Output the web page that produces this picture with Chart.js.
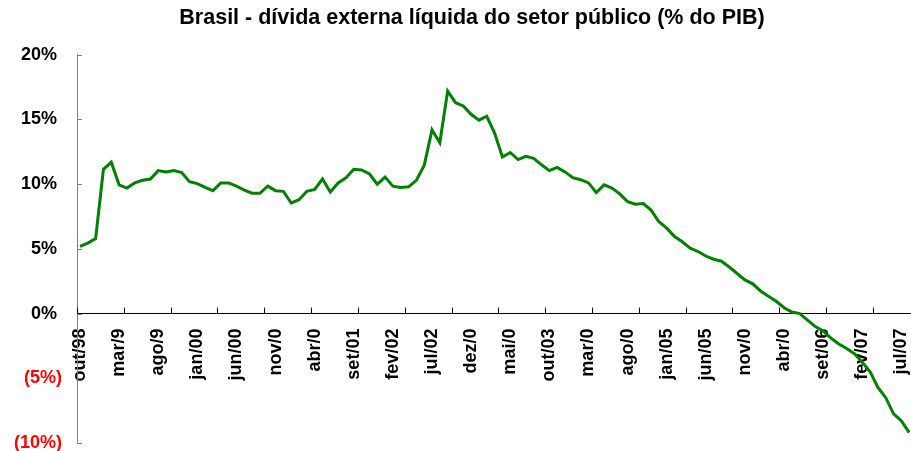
<!DOCTYPE html>
<html>
<head>
<meta charset="utf-8">
<script src="https://cdn.jsdelivr.net/npm/chart.js@4.4.1/dist/chart.umd.min.js"></script>
<style>
  html, body { margin: 0; padding: 0; background: #fff; }
  #wrap { width: 911px; height: 451px; }
</style>
</head>
<body>
<div id="wrap"><canvas id="divida"></canvas></div>
<script>
// Dívida externa líquida do setor público, % do PIB, mensal de out/98 a ago/07
const mesesNomes = ["jan", "fev", "mar", "abr", "mai", "jun", "jul", "ago", "set", "out", "nov", "dez"];
const meses = [];
for (let ano = 1998, m = 9; meses.length < 107; m++) {
  if (m === 12) { m = 0; ano++; }
  meses.push(mesesNomes[m] + "/" + String(ano).slice(2));
}

const divida = [
  5.2, 5.45, 5.8, 11.15, 11.7, 9.95, 9.7, 10.1, 10.3, 10.4,
  11.05, 10.95, 11.05, 10.9, 10.2, 10.05, 9.75, 9.5, 10.1, 10.1,
  9.85, 9.55, 9.3, 9.3, 9.85, 9.5, 9.45, 8.55, 8.8, 9.45,
  9.6, 10.4, 9.4, 10.1, 10.5, 11.15, 11.1, 10.8, 10.0, 10.55,
  9.85, 9.75, 9.8, 10.3, 11.45, 14.2, 13.2, 17.2, 16.3, 16.05,
  15.4, 14.95, 15.25, 13.95, 12.1, 12.45, 11.9, 12.15, 12.0, 11.5,
  11.05, 11.3, 10.95, 10.5, 10.35, 10.1, 9.35, 9.95, 9.7, 9.25,
  8.65, 8.45, 8.5, 8.0, 7.1, 6.6, 5.95, 5.55, 5.05, 4.8,
  4.45, 4.2, 4.05, 3.6, 3.1, 2.6, 2.3, 1.75, 1.35, 0.95,
  0.45, 0.12, 0.0, -0.5, -1.0, -1.35, -1.9, -2.35, -2.7, -3.1,
  -3.75, -4.5, -5.7, -6.5, -7.75, -8.3, -9.2
];

// rótulos do eixo x (um a cada 5 meses, como no original)
const rotulosX = ["out/98", "mar/9", "ago/9", "jan/00", "jun/00", "nov/0", "abr/0", "set/01", "fev/02", "jul/02",
  "dez/0", "mai/0", "out/03", "mar/0", "ago/0", "jan/05", "jun/05", "nov/0", "abr/0", "set/06", "fev/07", "jul/07"];
const valoresY = [-10, -5, 0, 5, 10, 15, 20];

const xMin = -0.38, xMax = 106.1;
const passoMarcas = 5.985; // marcas do eixo x do Excel não batem com os rótulos

// marcas para dentro (estilo Excel) + deslocar o título
const marcasInternas = {
  id: "marcasInternas",
  afterLayout(chart) {
    if (chart.titleBlock) chart.titleBlock.left += 34;
  },
  afterDatasetsDraw(chart) {
    const { ctx, scales: { x, y } } = chart;
    const y0 = y.getPixelForValue(0);
    ctx.save();
    ctx.lineWidth = 1;
    ctx.strokeStyle = "#000";
    ctx.beginPath();
    for (let k = 0; xMin + k * passoMarcas <= xMax; k++) {
      const px = Math.round(x.getPixelForValue(xMin + k * passoMarcas)) + 0.5;
      ctx.moveTo(px, y0);
      ctx.lineTo(px, y0 - 6);
    }
    ctx.stroke();
    ctx.strokeStyle = "#808080";
    ctx.beginPath();
    valoresY.forEach((v) => {
      const py = Math.round(y.getPixelForValue(v)) + 0.5;
      ctx.moveTo(x.left, py);
      ctx.lineTo(x.left + 5, py);
    });
    ctx.stroke();
    ctx.restore();
  }
};

new Chart(document.getElementById("divida"), {
  type: "line",
  data: {
    datasets: [{
      label: "Dívida externa líquida",
      data: divida.map((v, i) => ({ x: i, y: v })),
      borderColor: "#008000",
      borderWidth: 3,
      pointRadius: 0,
      tension: 0,
      fill: false
    }]
  },
  options: {
    responsive: true,
    maintainAspectRatio: false,
    animation: false,
    layout: { padding: { left: 0, right: 1, top: 0, bottom: 8 } },
    plugins: {
      legend: { display: false },
      tooltip: { enabled: false },
      title: {
        display: true,
        text: "Brasil - dívida externa líquida do setor público (% do PIB)",
        color: "#000",
        font: { family: "Liberation Sans, Arial, sans-serif", size: 21.5, weight: "bold" },
        padding: { top: 5, bottom: 24 }
      }
    },
    scales: {
      x: {
        type: "linear",
        position: { y: 0 },
        min: xMin,
        max: xMax,
        afterBuildTicks: (scale) => {
          scale.ticks = rotulosX.map((_, i) => ({ value: i * 5 }));
        },
        afterFit: (scale) => {
          scale.paddingLeft = 0;
          scale.paddingRight = 0;
        },
        grid: { drawOnChartArea: false, drawTicks: false },
        border: { display: true, color: "#000", width: 1 },
        ticks: {
          autoSkip: false,
          maxRotation: 90,
          minRotation: 90,
          padding: 15,
          color: "#000",
          font: { family: "Liberation Sans, Arial, sans-serif", size: 18, weight: "bold" },
          callback: (v, i) => rotulosX[i]
        }
      },
      y: {
        min: -10,
        max: 20,
        afterBuildTicks: (scale) => {
          scale.ticks = valoresY.map((v) => ({ value: v }));
        },
        afterFit: (scale) => {
          scale.width = 77;
          scale.paddingTop = 0;
          scale.paddingBottom = 0;
        },
        grid: { drawOnChartArea: false, drawTicks: false },
        border: { display: true, color: "#808080", width: 1 },
        ticks: {
          padding: 15,
          color: (c) => (c.tick && c.tick.value < 0 ? "#ff0000" : "#000"),
          font: { family: "Liberation Sans, Arial, sans-serif", size: 18, weight: "bold" },
          callback: (v) => (v < 0 ? "(" + (-v) + "%)" : v + "% ")
        }
      }
    }
  },
  plugins: [marcasInternas]
});
</script>
</body>
</html>
